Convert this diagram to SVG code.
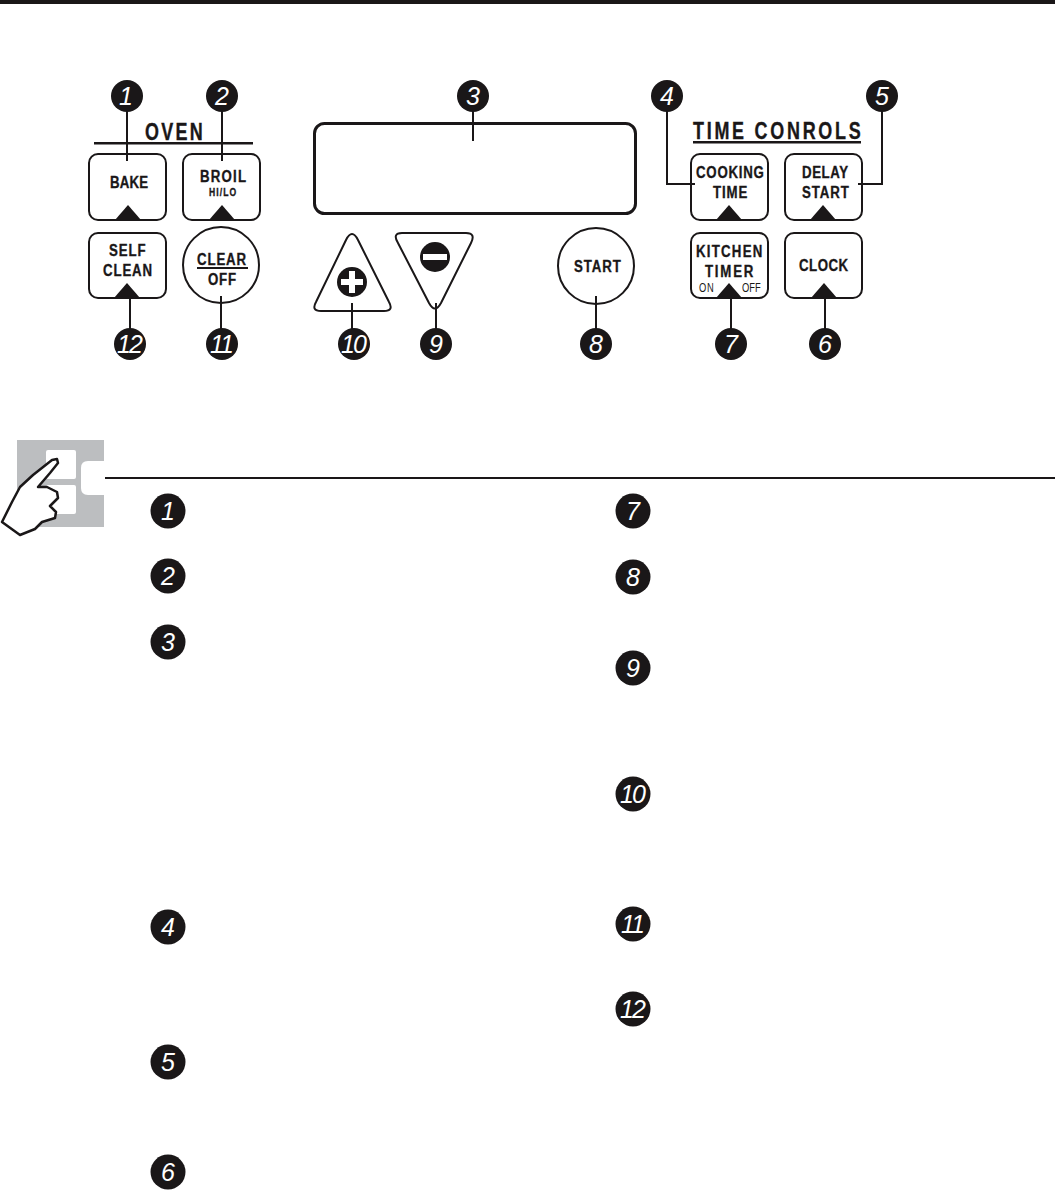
<svg xmlns="http://www.w3.org/2000/svg" width="1055" height="1199" viewBox="0 0 1055 1199">
<style>
.b{fill:#fff;stroke:#1a1718;stroke-width:2}
.d{fill:#1a1718}
.t{font-family:"Liberation Sans",Arial,sans-serif;font-weight:bold;fill:#1a1718;stroke:#1a1718;stroke-width:.35px}
.s{font-size:17px}
.x{font-size:11px}
.h{font-size:23px}
.r{font-family:"Liberation Sans",Arial,sans-serif;font-size:12px;fill:#1a1718}
.n{fill:#fff;font-family:"Liberation Sans",sans-serif;font-style:italic;font-size:25px;text-anchor:middle}
.w{letter-spacing:-2px}
.l{fill:none;stroke:#1a1718;stroke-width:2}
</style>
<rect width="1055" height="1199" fill="#fff"/>
<rect id="top-bar" x="0" y="0" width="1055" height="4" fill="#1a1718"/>
<g id="oven-heading"><text class="t h" transform="translate(145 140) scale(.78 1)" textLength="74">OVEN</text><rect class="d" x="94" y="142" width="159" height="2.500"/></g>
<g id="time-heading"><text class="t h" transform="translate(693 139) scale(.78 1)" textLength="215">TIME CONROLS</text><rect class="d" x="693" y="141" width="168" height="2.500"/></g>
<g id="bake"><rect class="b" x="89" y="154" width="77" height="66" rx="9"/><path class="d" d="M115 220L128 205L141 220Z"/><text class="t s" transform="translate(110 188) scale(.78 1)" textLength="49">BAKE</text></g>
<g id="broil"><rect class="b" x="183" y="154" width="77" height="66" rx="9"/><path class="d" d="M209 220L222 205L235 220Z"/><text class="t s" transform="translate(200 182) scale(.78 1)" textLength="59">BROIL</text><text class="t x" transform="translate(209 196) scale(.78 1)" textLength="35">HI/LO</text></g>
<g id="self-clean"><rect class="b" x="89" y="233" width="77" height="65" rx="9"/><path class="d" d="M114 298L127 283L140 298Z"/><text class="t s" transform="translate(109 256) scale(.78 1)" textLength="47">SELF</text><text class="t s" transform="translate(103 276) scale(.78 1)" textLength="63">CLEAN</text></g>
<g id="clear-off"><circle class="b" cx="221" cy="265" r="38"/><text class="t s" transform="translate(197 265) scale(.78 1)" textLength="63">CLEAR</text><rect class="d" x="197" y="267" width="51" height="2"/><text class="t s" transform="translate(208 285) scale(.78 1)" textLength="36">OFF</text></g>
<g id="display"><rect x="314.500" y="123.500" width="321" height="90" rx="10" fill="#fff" stroke="#1a1718" stroke-width="3"/></g>
<g id="plus"><path class="b" d="M346 240Q352 228 358 240L389 302Q394 311 384 311H321Q311 311 316 302Z"/><circle class="d" cx="352" cy="282" r="15"/><path fill="#fff" d="M349 271h6v8h8v6h-8v8h-6v-8h-8v-6h8z"/></g>
<g id="minus"><path class="b" d="M402 233H466Q476 233 471 243L441 303Q435 314 429 303L398 243Q392 233 402 233Z"/><circle class="d" cx="435" cy="257" r="15"/><rect x="423" y="254" width="24" height="6" fill="#fff"/></g>
<g id="start"><circle class="b" cx="596" cy="266" r="38"/><text class="t s" transform="translate(574 272) scale(.78 1)" textLength="60">START</text></g>
<g id="cooking-time"><rect class="b" x="691" y="154" width="77" height="66" rx="9"/><path class="d" d="M716 220L729 205L742 220Z"/><text class="t s" transform="translate(696 178) scale(.78 1)" textLength="87">COOKING</text><text class="t s" transform="translate(713 198) scale(.78 1)" textLength="44">TIME</text></g>
<g id="delay-start"><rect class="b" x="785" y="154" width="77" height="66" rx="9"/><path class="d" d="M810 220L823 205L836 220Z"/><text class="t s" transform="translate(802 178) scale(.78 1)" textLength="59">DELAY</text><text class="t s" transform="translate(802 198) scale(.78 1)" textLength="60">START</text></g>
<g id="kitchen-timer"><rect class="b" x="691" y="233" width="77" height="65" rx="9"/><path class="d" d="M716 298L729 283L742 298Z"/><text class="t s" transform="translate(696 257) scale(.78 1)" textLength="85">KITCHEN</text><text class="t s" transform="translate(705 277) scale(.78 1)" textLength="62">TIMER</text><text class="r" transform="translate(699 292) scale(.78 1)" textLength="19">ON</text><text class="r" transform="translate(742 292) scale(.78 1)" textLength="24">OFF</text></g>
<g id="clock"><rect class="b" x="785" y="233" width="77" height="65" rx="9"/><path class="d" d="M811 298L824 283L837 298Z"/><text class="t s" transform="translate(799 271) scale(.78 1)" textLength="63">CLOCK</text></g>
<g id="connectors">
<path class="l" d="M127 108V161M222 108V161M473 108V141M667 108V184H695M882 108V184H858"/>
<path class="l" d="M130 290V332M221 296V332M352 303V332M436 303V332M596 296V332M731 292V332M825 292V332"/>
</g>
<g id="badges-top">
<g id="b1"><circle class="d" cx="127" cy="96" r="16"/><text class="n" x="126" y="105">1</text></g>
<g id="b2"><circle class="d" cx="222" cy="96" r="16"/><text class="n" x="222" y="105">2</text></g>
<g id="b3"><circle class="d" cx="473" cy="96" r="16"/><text class="n" x="473" y="105">3</text></g>
<g id="b4"><circle class="d" cx="667" cy="96" r="16"/><text class="n" x="667" y="105">4</text></g>
<g id="b5"><circle class="d" cx="882" cy="96" r="16"/><text class="n" x="882" y="105">5</text></g>
<g id="b6"><circle class="d" cx="825" cy="344" r="16"/><text class="n" x="825" y="353">6</text></g>
<g id="b7"><circle class="d" cx="731" cy="344" r="16"/><text class="n" x="731" y="353">7</text></g>
<g id="b8"><circle class="d" cx="596" cy="344" r="16"/><text class="n" x="596" y="353">8</text></g>
<g id="b9"><circle class="d" cx="436" cy="344" r="16"/><text class="n" x="436" y="353">9</text></g>
<g id="b10"><circle class="d" cx="354" cy="344" r="16"/><text class="n w" x="353" y="353">10</text></g>
<g id="b11"><circle class="d" cx="222" cy="344" r="16"/><text class="n w" x="221" y="353">11</text></g>
<g id="b12"><circle class="d" cx="130" cy="344" r="16"/><text class="n w" x="129" y="353">12</text></g>
</g>
<g id="hand-icon">
<rect x="17" y="440" width="87" height="87" fill="#bcbec0"/>
<rect x="46" y="450" width="30" height="29" rx="2" fill="#fff"/>
<rect x="46" y="485" width="30" height="29" rx="2" fill="#fff"/>
<path fill="#fff" d="M105 461H88Q81 461 81 468V488Q81 495 88 495H105Z"/>
<path fill="#fff" stroke="#1a1718" stroke-width="2.500" stroke-linejoin="round" d="M2 522L20 535L35 529L42 522L55 518L56 512L50 506L58 498L57 492L47 487L38 487L50 473L58 463L57 459L52 460L33 475L20 487L12 502Z"/>
<rect class="d" x="105" y="477" width="950" height="2"/>
</g>
<g id="badges-list">
<g><circle class="d" cx="168" cy="511" r="17.500"/><text class="n" x="168" y="520">1</text></g>
<g><circle class="d" cx="168" cy="576" r="17.500"/><text class="n" x="168" y="585">2</text></g>
<g><circle class="d" cx="168" cy="642" r="17.500"/><text class="n" x="168" y="651">3</text></g>
<g><circle class="d" cx="168" cy="927" r="17.500"/><text class="n" x="168" y="936">4</text></g>
<g><circle class="d" cx="168" cy="1062" r="17.500"/><text class="n" x="168" y="1071">5</text></g>
<g><circle class="d" cx="168" cy="1172" r="17.500"/><text class="n" x="168" y="1181">6</text></g>
<g><circle class="d" cx="633" cy="511" r="17.500"/><text class="n" x="633" y="520">7</text></g>
<g><circle class="d" cx="633" cy="577" r="17.500"/><text class="n" x="633" y="586">8</text></g>
<g><circle class="d" cx="633" cy="668" r="17.500"/><text class="n" x="633" y="677">9</text></g>
<g><circle class="d" cx="633" cy="794" r="17.500"/><text class="n w" x="632" y="803">10</text></g>
<g><circle class="d" cx="633" cy="924" r="17.500"/><text class="n w" x="632" y="933">11</text></g>
<g><circle class="d" cx="633" cy="1009" r="17.500"/><text class="n w" x="632" y="1018">12</text></g>
</g>
</svg>
